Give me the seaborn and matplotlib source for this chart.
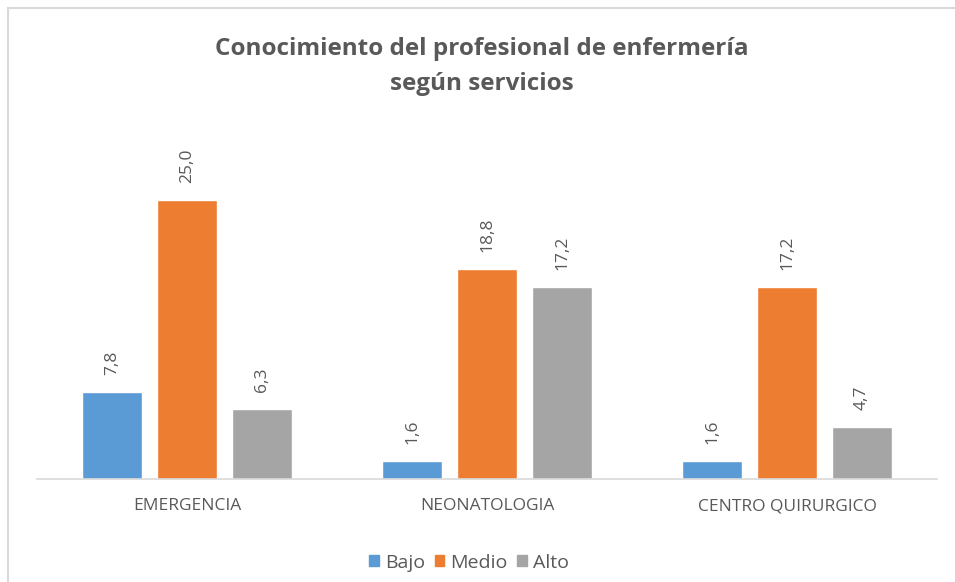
import seaborn as sns
import matplotlib.pyplot as plt
import matplotlib.patches as mpatches
import pandas as pd

# Data
servicios = ['EMERGENCIA', 'NEONATOLOGIA', 'CENTRO QUIRURGICO']
niveles = ['Bajo', 'Medio', 'Alto']
bajo = [7.8, 1.6, 1.6]
medio = [25.0, 18.8, 17.2]
alto = [6.3, 17.2, 4.7]
colores = ['#5B9BD5', '#ED7D31', '#A5A5A5']

df = pd.DataFrame({
    'servicio': servicios * 3,
    'nivel': ['Bajo'] * 3 + ['Medio'] * 3 + ['Alto'] * 3,
    'valor': bajo + medio + alto,
})

sns.set_style('white')
plt.rcParams['font.family'] = ['Open Sans', 'DejaVu Sans']
texto = '#595959'

fig = plt.figure(figsize=(9.55, 5.82), dpi=100)
ax = fig.add_axes([37 / 955, 103 / 582, 900 / 955, 335 / 582])

sns.barplot(data=df, x='servicio', y='valor', hue='nivel', order=servicios,
            hue_order=niveles, palette=colores, width=0.75, gap=0.2,
            saturation=1, ax=ax, legend=False)

ax.set_xlim(-0.5, 2.5)
ax.set_ylim(0, 30)

# data labels, rotated like the Excel chart
for cont in ax.containers:
    vals = [b.get_height() for b in cont]
    ax.bar_label(cont, labels=[f'{v:.1f}'.replace('.', ',') for v in vals],
                 rotation=90, padding=12, color=texto, fontsize=12.5)

ax.set_xlabel('')
ax.set_ylabel('')
ax.set_yticks([])
ax.tick_params(axis='x', length=0, pad=14, labelsize=12.5, labelcolor=texto)
for sp in ['top', 'right', 'left']:
    ax.spines[sp].set_visible(False)
ax.spines['bottom'].set_color('#D9D9D9')
ax.spines['bottom'].set_linewidth(1.2)

fig.text(0.505, 1 - 66.5 / 582, 'Conocimiento del profesional de enfermería\nsegún servicios',
         ha='center', va='center', fontsize=17.5, fontweight='bold', color=texto,
         linespacing=1.62)

handles = [mpatches.Patch(color=c, label=n) for c, n in zip(colores, niveles)]
fig.legend(handles=handles, loc='center', bbox_to_anchor=(0.491, 0.033), ncol=3,
           frameon=False, fontsize=14, handlelength=0.5, handleheight=0.5,
           handletextpad=0.3, columnspacing=0.5, labelcolor=texto)

# light outer frame (only top and left visible in the crop)
fig.patches.append(mpatches.Rectangle((8 / 955, -0.1), 1.2, 1 - 8 / 582 + 0.1,
                                      transform=fig.transFigure, fill=False,
                                      edgecolor='#D9D9D9', linewidth=1.5))

fig.savefig('out.png', dpi=100)
